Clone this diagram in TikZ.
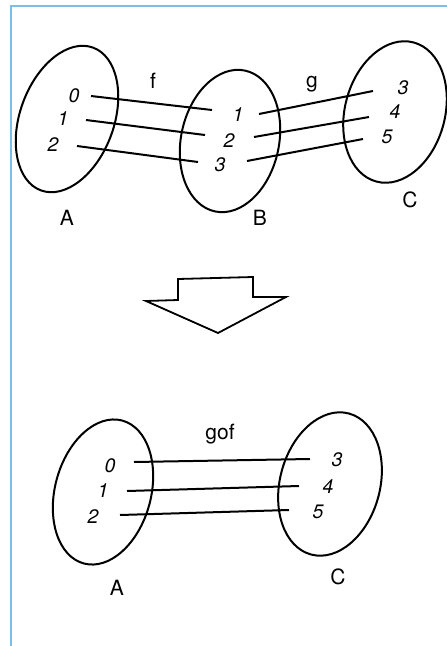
\documentclass[tikz,border=0pt]{standalone}
\usepackage{fontspec}
\setmainfont{TeX Gyre Heros}
\usetikzlibrary{shapes.geometric}
\definecolor{framblue}{RGB}{125,190,228}
\tikzset{
  setel/.style={draw, ellipse, line width=2pt, inner sep=0pt},
  dig/.style={font=\fontsize{19.5}{22}\selectfont\itshape, inner sep=0pt},
  lab/.style={font=\fontsize{21}{24}\selectfont, inner sep=0pt},
  mapline/.style={line width=2pt},
}
\begin{document}
\begin{tikzpicture}[x=1pt,y=-1pt]
\useasboundingbox (0,0) rectangle (447,646);
% frame
\draw[framblue, line width=1.8pt] (11,646) -- (11,6) -- (447,6);
% top ellipses
\node[setel, minimum width=94pt, minimum height=152pt, rotate=-20] (EA) at (67,119) {};
\node[setel, minimum width=98pt, minimum height=144pt, rotate=-12] (EB) at (230,141) {};
\node[setel, minimum width=100pt, minimum height=144pt, rotate=-15] (EC) at (395,112) {};
% digits top
\node[dig] (a0) at (74,96) {0};
\node[dig] (a1) at (63,119) {1};
\node[dig] (a2) at (53,145) {2};
\node[dig] (b1) at (238,115) {1};
\node[dig] (b2) at (229,141) {2};
\node[dig] (b3) at (220,165) {3};
\node[dig] (c3) at (403,88) {3};
\node[dig] (c4) at (395,112) {4};
\node[dig] (c5) at (387,137) {5};
\node[lab] (f) at (153,81) {f};
\node[lab] (g) at (312,84) {g};
\node[lab] (A1) at (67,218) {A};
\node[lab] (B1) at (260,218) {B};
\node[lab] (C1) at (410,200) {C};
% line endpoints
\coordinate (fs1) at (91,96);  \coordinate (fe1) at (212,110);
\coordinate (fs2) at (86,120); \coordinate (fe2) at (205,135);
\coordinate (fs3) at (77,146); \coordinate (fe3) at (198,162);
\coordinate (gs1) at (259,114); \coordinate (ge1) at (373,91);
\coordinate (gs2) at (254,137); \coordinate (ge2) at (369,117);
\coordinate (gs3) at (247,161); \coordinate (ge3) at (363,139);
\draw[mapline] (fs1) -- (fe1);
\draw[mapline] (fs2) -- (fe2);
\draw[mapline] (fs3) -- (fe3);
\draw[mapline] (gs1) -- (ge1);
\draw[mapline] (gs2) -- (ge2);
\draw[mapline] (gs3) -- (ge3);
% big arrow
\draw[line width=1.8pt, line join=miter] (146,301) -- (178,300) -- (178,279) -- (253,277) -- (253,297) -- (286,297) -- (218,333) -- cycle;
% bottom
\node[setel, minimum width=96pt, minimum height=148pt, rotate=-15] (EA2) at (103,492) {};
\node[setel, minimum width=100pt, minimum height=146pt, rotate=-15] (EC2) at (330,484) {};
\node[dig] (p0) at (110,466) {0};
\node[dig] (p1) at (103,491) {1};
\node[dig] (p2) at (93,517) {2};
\node[dig] (q3) at (337,460) {3};
\node[dig] (q4) at (328,487) {4};
\node[dig] (q5) at (318,512) {5};
\node[lab] (gof) at (220,434) {gof};
\node[lab] (A2) at (117,588) {A};
\node[lab] (C2) at (338,577) {C};
\coordinate (hs1) at (134,462); \coordinate (he1) at (310,459);
\coordinate (hs2) at (127,491); \coordinate (he2) at (299,486);
\coordinate (hs3) at (120,515); \coordinate (he3) at (289,510);
\draw[mapline] (hs1) -- (he1);
\draw[mapline] (hs2) -- (he2);
\draw[mapline] (hs3) -- (he3);
\end{tikzpicture}
\end{document}
